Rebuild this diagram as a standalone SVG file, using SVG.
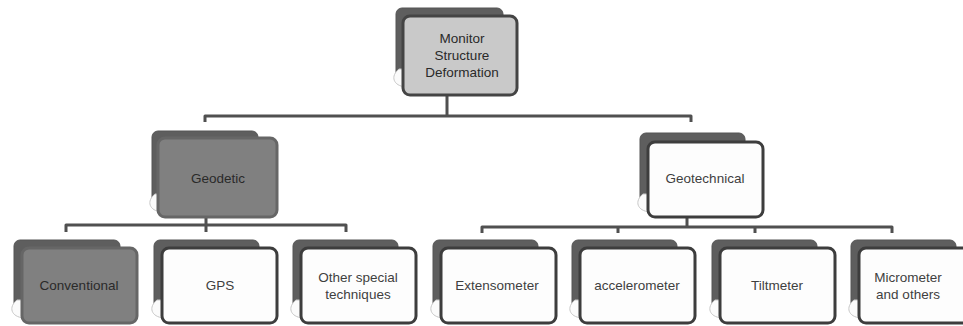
<svg xmlns="http://www.w3.org/2000/svg" width="963" height="326" viewBox="0 0 963 326">
<defs>
<path id="curl" d="M3 -16 C-6 -9 -3 1 10 2 L12 -16 Z"/>
</defs>
<style>
.back{fill:#5e5e5e;stroke:#555;stroke-width:1}
.curl{fill:#fbfbfb;stroke:#c8c8c8;stroke-width:1}
.front{fill:#fdfdfd;stroke:#3d3d3d;stroke-width:3}
.frontDark{fill:#808080;stroke:#666;stroke-width:3}
.frontTop{fill:#c9c9c9;stroke:#444;stroke-width:3}
.lbl{font-family:"Liberation Sans",Arial,sans-serif;font-size:13.5px;fill:#3f3f3f;text-anchor:middle}
.lblDark{fill:#2a2a2a}
.conn{fill:none;stroke:#505050;stroke-width:3;stroke-linejoin:round}
</style>
<rect width="963" height="326" fill="#ffffff"/>
<g id="connectors">
<path class="conn" d="M447 95 V116 M205 122 V116 H691 V122"/>
<path class="conn" d="M206 217 V232 M66 232 V225 H346 V232"/>
<path class="conn" d="M687 217 V227 M482 233 V227 H892 V233 M618 227 V233 M755 227 V233"/>
</g>
<g id="n-top">
<rect class="back" x="396" y="8" width="107" height="77" rx="6"/>
<use href="#curl" class="curl" x="396" y="85"/>
<rect class="frontTop" x="403" y="16" width="114" height="79" rx="7"/>
<text class="lbl lblDark" x="462" y="43">Monitor</text>
<text class="lbl lblDark" x="462" y="60">Structure</text>
<text class="lbl lblDark" x="462" y="77">Deformation</text>
</g>
<g id="n-geodetic">
<rect class="back" x="152" y="131" width="106" height="79" rx="6"/>
<use href="#curl" class="curl" x="152" y="210"/>
<rect class="frontDark" x="158" y="138" width="119" height="79" rx="7"/>
<text class="lbl lblDark" x="218" y="183">Geodetic</text>
</g>
<g id="n-geotechnical">
<rect class="back" x="640" y="133" width="105" height="77" rx="6"/>
<use href="#curl" class="curl" x="640" y="210"/>
<rect class="front" x="648" y="142" width="115" height="75" rx="7"/>
<text class="lbl" x="705" y="183">Geotechnical</text>
</g>
<g id="n-conventional">
<rect class="back" x="14" y="240" width="106" height="76" rx="6"/>
<use href="#curl" class="curl" x="14" y="316"/>
<rect class="frontDark" x="22" y="248" width="115" height="75" rx="7"/>
<text class="lbl lblDark" x="79" y="290">Conventional</text>
</g>
<g id="n-gps">
<rect class="back" x="154" y="240" width="105" height="76" rx="6"/>
<use href="#curl" class="curl" x="154" y="316"/>
<rect class="front" x="162" y="248" width="115" height="75" rx="7"/>
<text class="lbl" x="220" y="290">GPS</text>
</g>
<g id="n-other">
<rect class="back" x="293" y="240" width="105" height="76" rx="6"/>
<use href="#curl" class="curl" x="293" y="316"/>
<rect class="front" x="301" y="248" width="115" height="75" rx="7"/>
<text class="lbl" x="358" y="282">Other special</text>
<text class="lbl" x="358" y="299">techniques</text>
</g>
<g id="n-extensometer">
<rect class="back" x="433" y="240" width="105" height="76" rx="6"/>
<use href="#curl" class="curl" x="433" y="316"/>
<rect class="front" x="441" y="248" width="115" height="75" rx="7"/>
<text class="lbl" x="497" y="290">Extensometer</text>
</g>
<g id="n-accelerometer">
<rect class="back" x="572" y="240" width="105" height="76" rx="6"/>
<use href="#curl" class="curl" x="572" y="316"/>
<rect class="front" x="580" y="248" width="115" height="75" rx="7"/>
<text class="lbl" x="637" y="290">accelerometer</text>
</g>
<g id="n-tiltmeter">
<rect class="back" x="712" y="240" width="105" height="76" rx="6"/>
<use href="#curl" class="curl" x="712" y="316"/>
<rect class="front" x="720" y="248" width="115" height="75" rx="7"/>
<text class="lbl" x="777" y="290">Tiltmeter</text>
</g>
<g id="n-micrometer">
<rect class="back" x="851" y="240" width="105" height="76" rx="6"/>
<use href="#curl" class="curl" x="851" y="316"/>
<rect class="front" x="859" y="248" width="115" height="75" rx="7"/>
<text class="lbl" x="908" y="282">Micrometer</text>
<text class="lbl" x="908" y="299">and others</text>
</g>
</svg>
